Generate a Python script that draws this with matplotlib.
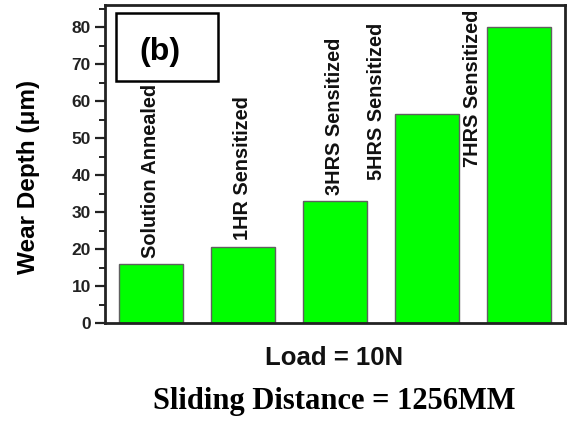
import matplotlib
matplotlib.use('Agg')
import matplotlib.pyplot as plt
from matplotlib.patches import Rectangle
from matplotlib.ticker import MultipleLocator

# data
conditions = ['Solution Annealed', '1HR Sensitized', '3HRS Sensitized',
              '5HRS Sensitized', '7HRS Sensitized']
wear_depth = [16, 20.5, 33, 56.5, 80]
yticks = [0, 10, 20, 30, 40, 50, 60, 70, 80]

plt.rcParams['font.family'] = ['Liberation Sans', 'DejaVu Sans']

fig = plt.figure(figsize=(5.73, 4.24), dpi=100)
ax = fig.add_axes([0.183, 0.238, 0.803, 0.750])

pos = list(range(1, len(wear_depth) + 1))
ax.bar(pos, wear_depth, width=0.7, color='#00ff00', edgecolor='#606060', lw=1.0)

ax.set_xlim(0.5, 5.5)
ax.set_ylim(0, 86)
ax.set_xticks([])
ax.set_yticks(yticks)
ax.yaxis.set_minor_locator(MultipleLocator(5))
ax.tick_params(axis='y', which='major', direction='out', length=7, width=1.6,
               labelsize=12.5, pad=3, colors='#222222')
ax.tick_params(axis='y', which='minor', direction='out', length=4, width=1.4,
               colors='#222222')
for lab in ax.get_yticklabels():
    lab.set_fontweight('bold')
for sp in ax.spines.values():
    sp.set_linewidth(2.0)
    sp.set_color('#222222')

ax.set_ylabel('Wear Depth (\u03bcm)', fontsize=17.5, fontweight='bold')
ax.yaxis.set_label_coords(-0.142, 0.46)

# bar annotations (first three above bars, last two beside)
lab_x = [1, 2, 3, 3.45, 4.49]
lab_y = [wear_depth[0] + 1.6, wear_depth[1] + 2.0, wear_depth[2] + 1.6, 38.6, 42.2]
for x, y, t in zip(lab_x, lab_y, conditions):
    ax.text(x, y, t, rotation=90, ha='center', va='bottom', fontsize=14.3,
            fontweight='bold', color='#111111')

# (b) box
fig.patches.append(Rectangle((116 / 573, 1 - 81 / 424), 102 / 573, 68 / 424,
                             transform=fig.transFigure, fill=False,
                             edgecolor='black', lw=1.8))
fig.text(160 / 573, 1 - 52 / 424, '(b)', ha='center', va='center',
         fontsize=23, fontweight='bold')

fig.text(334 / 573, 1 - 358 / 424, 'Load = 10N', ha='center', va='center',
         fontsize=18.5, fontweight='bold', color='#111111')
fig.text(334 / 573, 1 - 401 / 424, 'Sliding Distance = 1256MM', ha='center',
         va='center', fontsize=22, fontweight='bold', family='Liberation Serif')

fig.savefig('out.png', dpi=100)
